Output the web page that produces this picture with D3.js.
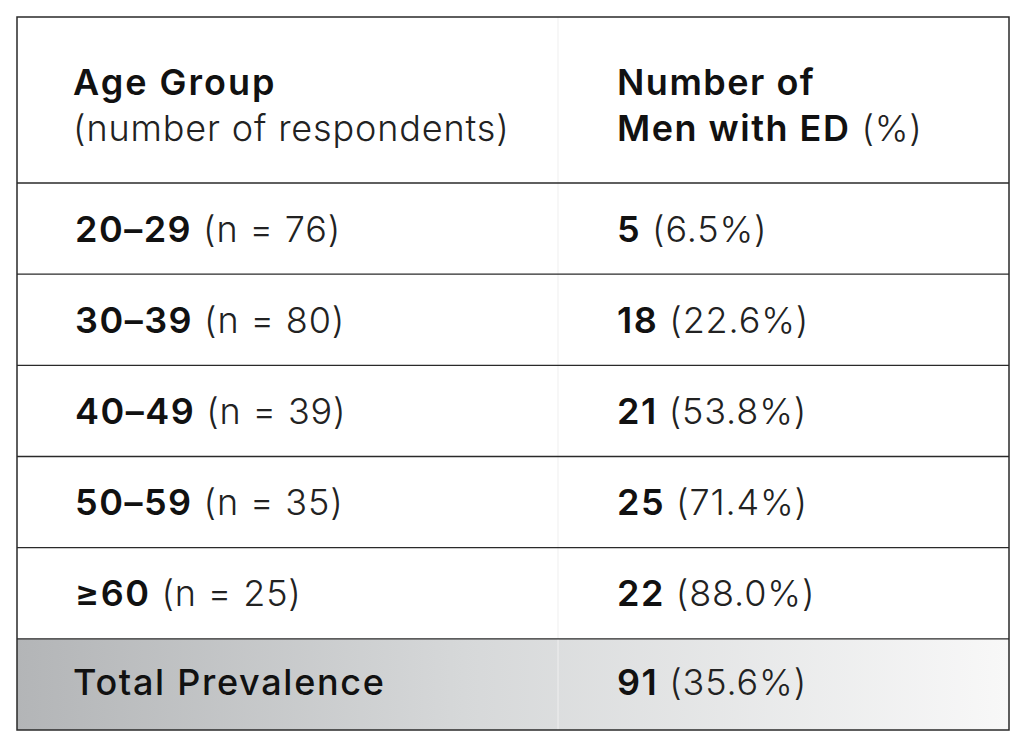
<!DOCTYPE html>
<html>
<head>
<meta charset="utf-8">
<script src="https://cdn.jsdelivr.net/npm/d3@7"></script>
<style>
    body { margin: 0; background: #fff; }
    svg { display: block; }
</style>
</head>
<body>
<div id="chart"></div>
<script>
// table data
const ageGroups = ["20–29", "30–39", "40–49", "50–59", "≥60"];
const respondents = [76, 80, 39, 35, 25];
const edCounts = [5, 18, 21, 25, 22];
const edPercents = ["6.5%", "22.6%", "53.8%", "71.4%", "88.0%"];
const totalLabel = "Total Prevalence";
const totalCount = 91;
const totalPercent = "35.6%";

const width = 1024, height = 745;
const tblLeft = 17, tblRight = 1009, tblTop = 17, headerBottom = 183, tblBottom = 730;
const colDivider = 558;
const textPad = 57;
const fontSize = 36;
const font = "Inter, 'Liberation Sans', sans-serif";

const svg = d3.select("#chart")
    .append("svg")
    .attr("width", width)
    .attr("height", height);

const rowKeys = [...ageGroups, "total"];
const y = d3.scaleBand()
    .domain(rowKeys)
    .range([headerBottom, tblBottom]);

const colX = d3.scaleOrdinal()
    .domain(["age", "ed"])
    .range([tblLeft, colDivider]);

// gradient for the total row
const grad = svg.append("defs").append("linearGradient")
    .attr("id", "totalGrad")
    .attr("x1", "0%").attr("x2", "100%")
    .attr("y1", "0%").attr("y2", "0%");
grad.append("stop").attr("offset", "0%").attr("stop-color", "#b3b5b7");
grad.append("stop").attr("offset", "45%").attr("stop-color", "#d6d8d9");
grad.append("stop").attr("offset", "100%").attr("stop-color", "#f8f8f8");

svg.append("rect")
    .attr("x", tblLeft)
    .attr("y", y("total"))
    .attr("width", tblRight - tblLeft)
    .attr("height", y.bandwidth())
    .attr("fill", "url(#totalGrad)");

// faint column divider
svg.append("line")
    .attr("x1", colDivider).attr("x2", colDivider)
    .attr("y1", tblTop).attr("y2", tblBottom)
    .attr("stroke", "#efefef")
    .attr("stroke-width", 1);

// horizontal row lines (header bottom + between rows)
svg.selectAll(".row-line")
    .data(rowKeys)
    .enter()
    .append("line")
    .attr("class", "row-line")
    .attr("x1", tblLeft).attr("x2", tblRight)
    .attr("y1", d => y(d)).attr("y2", d => y(d))
    .attr("stroke", "#2a2a2a")
    .attr("stroke-width", 1.3);

// outer border
svg.append("rect")
    .attr("x", tblLeft).attr("y", tblTop)
    .attr("width", tblRight - tblLeft)
    .attr("height", tblBottom - tblTop)
    .attr("fill", "none")
    .attr("stroke", "#2a2a2a")
    .attr("stroke-width", 1.5);

// helper: bold part + light part in one text
function addCell(g, x, yPos, boldText, lightText, boldWeight = 600, boldSpacing = 1.5) {
    const t = g.append("text")
        .attr("x", x)
        .attr("y", yPos)
        .attr("font-family", font)
        .attr("font-size", fontSize)
        .attr("fill", "#111");
    if (boldText) {
        t.append("tspan")
            .attr("font-weight", boldWeight)
            .attr("letter-spacing", boldSpacing)
            .text(boldText);
    }
    if (lightText) {
        t.append("tspan")
            .attr("font-weight", 300)
            .attr("letter-spacing", 0.85)
            .attr("fill", "#222")
            .text((boldText ? " " : "") + lightText);
    }
    return t;
}

// header
const header = svg.append("g").attr("class", "header");
addCell(header, colX("age") + textPad - 1, 95, "Age Group", null, 600, 2);
addCell(header, colX("age") + textPad - 1, 141, null, "(number of respondents)");
addCell(header, colX("ed") + textPad + 2, 95, "Number of", null);
addCell(header, colX("ed") + textPad + 2, 141, "Men with ED", "(%)");

// body rows
const baseOffset = y.bandwidth() / 2 + 13;
const body = svg.append("g").attr("class", "body");
ageGroups.forEach((a, i) => {
    addCell(body, colX("age") + textPad + 1, y(a) + baseOffset, a, `(n = ${respondents[i]})`);
    addCell(body, colX("ed") + textPad + 2, y(a) + baseOffset, String(edCounts[i]), `(${edPercents[i]})`);
});

// total row
addCell(body, colX("age") + textPad - 1, y("total") + baseOffset - 2, totalLabel, null, 500, 1.7);
addCell(body, colX("ed") + textPad + 2, y("total") + baseOffset - 2, String(totalCount), `(${totalPercent})`);
</script>
</body>
</html>
